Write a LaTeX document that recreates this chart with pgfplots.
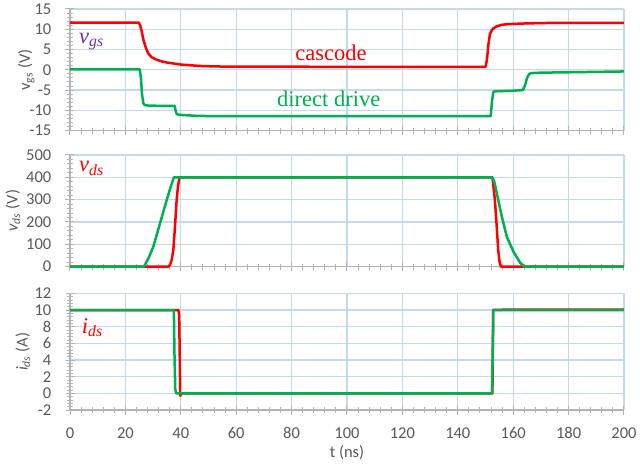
\documentclass[border=0pt]{standalone}
\usepackage{pgfplots}
\pgfplotsset{compat=1.18}
\usepackage{fontspec}
\setmainfont{Carlito}
\newfontfamily\serif{Liberation Serif}
\definecolor{gridc}{RGB}{197,217,237}
\definecolor{axc}{RGB}{180,180,180}
\definecolor{txtc}{RGB}{89,89,89}
\definecolor{cred}{RGB}{255,0,0}
\definecolor{cgreen}{RGB}{0,176,80}
\definecolor{cpurple}{RGB}{112,48,160}
\pgfplotsset{
  panel/.style={
    scale only axis, width=332.4pt,
    xmin=0, xmax=200, xtick={0,20,...,200},
    minor x tick num=4, minor y tick num=4,
    axis lines=left, axis line style={-, draw=axc, line width=0.8pt},
    grid=major, major grid style={draw=gridc, line width=0.8pt},
    tick align=center, major tick length=5.4pt, minor tick length=3.6pt,
    tick style={draw=axc, line width=0.6pt},
    every tick label/.append style={font=\fontsize{9.9}{11}\selectfont, text=txtc},
    yticklabel style={xshift=-5pt},
    xticklabel style={yshift=-4.2pt},
    /pgf/number format/assume math mode=true,
    label style={font=\fontsize{9.9}{11}\selectfont, text=txtc},
    clip=false,
  },
  sig/.style={line width=1.5pt, line join=round},
}
\begin{document}
\begin{tikzpicture}
\path[use as bounding box] (0,0) rectangle (384pt,-280.8pt);
% Panel 1: vgs
\begin{axis}[panel, at={(42pt,-5.4pt)}, anchor=north west, height=73pt,
  ymin=-15, ymax=15, ytick={-15,-10,...,15}, xticklabels={},
  ylabel={v\textsubscript{gs} (V)},
  ylabel style={at={(axis description cs:-0.079,0.5)}, anchor=center}]
\addplot[sig, cred] coordinates {
(0,11.65)(24.8,11.65)(25.3,11.0)(25.8,9.8)(26.5,7.4)(27.3,5.6)(28.3,4.0)(29.5,3.1)(31.4,2.45)(33,2.1)(35,1.8)(38,1.5)(40,1.3)(44,1.1)(47,0.95)(52,0.85)(57,0.78)(100,0.75)(150.1,0.75)(150.6,3)(151.1,6.5)(151.6,8.8)(152.2,9.7)(152.8,10.2)(154,10.7)(155.8,11.1)(158,11.25)(161,11.35)(165,11.45)(176,11.6)(200,11.6)};
\addplot[sig, cgreen] coordinates {
(0,0.1)(25.2,0.1)(25.6,-2)(26.0,-6)(26.5,-8.3)(27.0,-8.7)(28,-8.8)(30,-8.85)(37.8,-8.9)(38.1,-10)(38.5,-10.9)(39.5,-11.1)(42,-11.2)(46,-11.35)(50,-11.4)(151.9,-11.4)(152.3,-8)(152.8,-5.5)(153.3,-5.3)(160,-5.15)(163.5,-5.0)(164.3,-3.8)(165,-2)(165.8,-1.0)(166.6,-0.8)(170,-0.7)(190,-0.5)(200,-0.4)};
\node[anchor=base west, font=\serif\fontsize{13.5}{15}\selectfont\itshape, text=cpurple] at (axis cs:1.2,6.6) {v\textsubscript{gs}};
\node[anchor=base, font=\serif\fontsize{13.5}{15}\selectfont, text=cred] at (axis cs:94.2,2.4) {cascode};
\node[anchor=base, font=\serif\fontsize{13.5}{15}\selectfont, text=cgreen] at (axis cs:93.4,-9.1) {direct drive};
\end{axis}
% Panel 2: vds
\begin{axis}[panel, at={(42pt,-93pt)}, anchor=north west, height=67pt,
  ymin=0, ymax=500, ytick={0,100,...,500}, xticklabels={},
  ylabel={\textit{v}\textsubscript{\textit{ds}} (V)},
  ylabel style={at={(axis description cs:-0.103,0.5)}, anchor=center}]
\addplot[sig, cred] coordinates {
(0,0)(35.5,0)(36.2,10)(36.7,30)(37.3,74)(37.9,180)(38.5,298)(39.0,360)(39.5,400)(152.5,400)(153.4,298)(154.0,190)(154.6,74)(155.1,20)(155.6,0)(200,0)};
\addplot[sig, cgreen] coordinates {
(0,0)(26.7,0)(28.3,37)(30.1,90)(32.5,194)(34.9,298)(36.3,355)(37.5,400)(152.5,400)(153.2,380)(154.1,328)(155.9,224)(157.7,134)(160.1,67)(162.5,18)(164,0)(200,0)};
\node[anchor=base west, font=\serif\fontsize{13.5}{15}\selectfont\itshape, text=cred] at (axis cs:1.2,425) {v\textsubscript{ds}};
\end{axis}
% Panel 3: ids
\begin{axis}[panel, at={(42pt,-176pt)}, anchor=north west, height=70pt,
  ymin=-2, ymax=12, ytick={-2,0,...,12},
  xlabel={t (ns)}, xlabel style={at={(axis description cs:0.5,0)}, anchor=center, yshift=-25.5pt},
  ylabel={\textit{i}\textsubscript{\textit{ds}} (A)},
  ylabel style={at={(axis description cs:-0.085,0.5)}, anchor=center}]
\addplot[sig, cred] coordinates {
(0,10)(39.1,10)(39.4,9.5)(39.6,5)(39.8,-0.3)(40.2,0)(152.5,0)(152.8,10)(158,10.05)(200,10.05)};
\addplot[sig, cgreen] coordinates {
(0,10)(37.5,10)(37.7,5)(38.0,0.5)(38.3,0)(152.4,0)(152.8,10)(200,10)};
\node[anchor=base west, font=\serif\fontsize{13.5}{15}\selectfont\itshape, text=cred] at (axis cs:2.2,7.2) {i\textsubscript{ds}};
\end{axis}
\end{tikzpicture}
\end{document}
